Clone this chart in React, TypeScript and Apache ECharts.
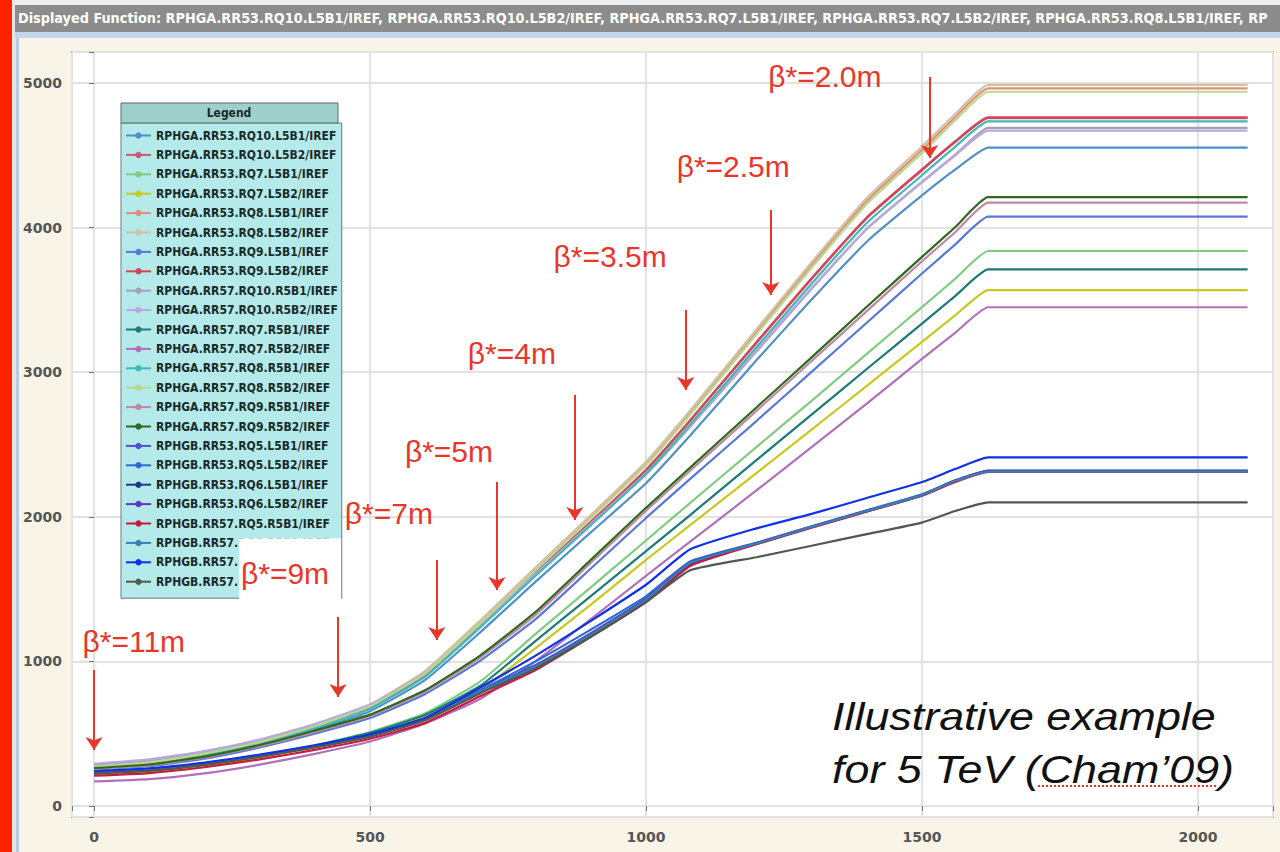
import React, { useEffect, useRef } from "react";
import * as echarts from "echarts";

const X_POINTS = [0, 100, 200, 300, 400, 500, 600, 700, 800, 900, 1000, 1080, 1200, 1300, 1400, 1500, 1560, 1620, 2090];

const SERIES_NAMES = [
  "RPHGA.RR53.RQ10.L5B1/IREF",
  "RPHGA.RR53.RQ10.L5B2/IREF",
  "RPHGA.RR53.RQ7.L5B1/IREF",
  "RPHGA.RR53.RQ7.L5B2/IREF",
  "RPHGA.RR53.RQ8.L5B1/IREF",
  "RPHGA.RR53.RQ8.L5B2/IREF",
  "RPHGA.RR53.RQ9.L5B1/IREF",
  "RPHGA.RR53.RQ9.L5B2/IREF",
  "RPHGA.RR57.RQ10.R5B1/IREF",
  "RPHGA.RR57.RQ10.R5B2/IREF",
  "RPHGA.RR57.RQ7.R5B1/IREF",
  "RPHGA.RR57.RQ7.R5B2/IREF",
  "RPHGA.RR57.RQ8.R5B1/IREF",
  "RPHGA.RR57.RQ8.R5B2/IREF",
  "RPHGA.RR57.RQ9.R5B1/IREF",
  "RPHGA.RR57.RQ9.R5B2/IREF",
  "RPHGB.RR53.RQ5.L5B1/IREF",
  "RPHGB.RR53.RQ5.L5B2/IREF",
  "RPHGB.RR53.RQ6.L5B1/IREF",
  "RPHGB.RR53.RQ6.L5B2/IREF",
  "RPHGB.RR57.RQ5.R5B1/IREF",
  "RPHGB.RR57.RQ5.R5B2/IREF",
  "RPHGB.RR57.RQ6.R5B1/IREF",
  "RPHGB.RR57.RQ6.R5B2/IREF",
];

const SERIES_COLORS = [
  "#4f90c8", "#c85a78", "#80cc80", "#c8c81e", "#e0907a", "#d2c2a2", "#5878d8", "#d04858",
  "#a8a0b8", "#b8a8e0", "#1e7a78", "#b070b8", "#40b8b8", "#b8d890", "#c088a8", "#2e6a1a",
  "#5050c8", "#3068d8", "#203888", "#5838c0", "#c81840", "#3880b0", "#1030e8", "#505850",
];

const a53q10b1 = [256, 286, 343, 421, 526, 656, 872, 1202, 1552, 1892, 2232, 2562, 3082, 3502, 3902, 4222, 4400, 4553, 4553];
const a53q10b2 = [266, 296, 356, 436, 545, 682, 906, 1250, 1610, 1962, 2322, 2664, 3202, 3644, 4064, 4396, 4590, 4757, 4757];
const a53q7b1 = [232, 252, 292, 352, 422, 512, 642, 862, 1190, 1512, 1836, 2096, 2482, 2802, 3126, 3450, 3645, 3838, 3838];
const a53q7b2 = [216, 236, 276, 336, 406, 496, 616, 802, 1092, 1392, 1702, 1942, 2302, 2602, 2906, 3210, 3392, 3568, 3568];
const a53q8b1 = [278, 308, 368, 448, 558, 697, 928, 1276, 1642, 2003, 2370, 2722, 3280, 3742, 4184, 4537, 4762, 4962, 4962];
const a53q8b2 = [282, 312, 372, 452, 562, 702, 935, 1285, 1650, 2012, 2380, 2735, 3295, 3760, 4205, 4560, 4785, 4986, 4986];
const a53q9b1 = [250, 275, 328, 405, 500, 608, 775, 1005, 1292, 1642, 1992, 2262, 2662, 3002, 3342, 3682, 3882, 4076, 4076];
const a53q9b2 = [268, 298, 358, 438, 548, 684, 908, 1253, 1613, 1965, 2325, 2668, 3207, 3649, 4070, 4402, 4596, 4762, 4762];
const a57q10b1 = [286, 316, 374, 454, 561, 696, 916, 1252, 1601, 1946, 2292, 2622, 3142, 3576, 3990, 4316, 4503, 4690, 4690];
const a57q10b2 = [292, 322, 380, 460, 567, 702, 922, 1258, 1606, 1952, 2302, 2632, 3152, 3582, 3992, 4312, 4498, 4670, 4670];
const a57q7b1 = [226, 246, 286, 346, 416, 506, 631, 832, 1142, 1452, 1762, 2012, 2392, 2706, 3022, 3336, 3526, 3711, 3711];
const a57q7b2 = [170, 186, 226, 286, 361, 446, 571, 742, 1002, 1292, 1592, 1828, 2182, 2482, 2782, 3092, 3272, 3449, 3449];
const a57q8b1 = [262, 292, 350, 430, 538, 672, 895, 1236, 1592, 1942, 2298, 2638, 3172, 3612, 4032, 4362, 4558, 4734, 4734];
const a57q8b2 = [272, 302, 362, 442, 552, 690, 918, 1264, 1630, 1990, 2356, 2706, 3262, 3722, 4163, 4516, 4740, 4939, 4939];
const a57q9b1 = [256, 281, 336, 414, 512, 622, 792, 1027, 1322, 1682, 2042, 2318, 2732, 3077, 3422, 3767, 3967, 4172, 4172];
const a57q9b2 = [262, 287, 342, 422, 522, 632, 802, 1042, 1342, 1702, 2062, 2340, 2756, 3102, 3452, 3797, 4002, 4210, 4210];
const b53q5b1 = [236, 256, 296, 351, 416, 491, 603, 795, 975, 1195, 1435, 1685, 1818, 1932, 2042, 2152, 2252, 2316, 2316];
const b53q5b2 = [235, 255, 295, 350, 415, 490, 600, 800, 1000, 1220, 1450, 1690, 1820, 1935, 2045, 2155, 2250, 2320, 2320];
const b53q6b1 = [228, 248, 288, 343, 408, 483, 595, 785, 960, 1180, 1420, 1672, 1812, 1928, 2038, 2148, 2245, 2312, 2312];
const b53q6b2 = [233, 253, 293, 348, 413, 488, 601, 792, 970, 1190, 1430, 1682, 1816, 1931, 2041, 2151, 2250, 2318, 2318];
const b57q5b1 = [210, 228, 268, 322, 388, 465, 575, 760, 940, 1170, 1410, 1660, 1810, 1925, 2035, 2145, 2240, 2310, 2310];
const b57q5b2 = [232, 252, 292, 347, 412, 487, 600, 790, 965, 1185, 1425, 1680, 1815, 1930, 2040, 2150, 2248, 2312, 2312];
const b57q6b1 = [240, 260, 300, 355, 420, 495, 610, 820, 1040, 1280, 1530, 1775, 1920, 2020, 2130, 2240, 2330, 2411, 2411];
const b57q6b2 = [225, 245, 285, 340, 405, 480, 595, 780, 950, 1170, 1410, 1630, 1720, 1800, 1880, 1960, 2040, 2100, 2100];

const SERIES_VALUES = [
  a53q10b1, a53q10b2, a53q7b1, a53q7b2, a53q8b1, a53q8b2, a53q9b1, a53q9b2,
  a57q10b1, a57q10b2, a57q7b1, a57q7b2, a57q8b1, a57q8b2, a57q9b1, a57q9b2,
  b53q5b1, b53q5b2, b53q6b1, b53q6b2, b57q5b1, b57q5b2, b57q6b1, b57q6b2,
];

const BETA_LABELS = ["β*=11m", "β*=9m", "β*=7m", "β*=5m", "β*=4m", "β*=3.5m", "β*=2.5m", "β*=2.0m"];
const LABEL_X = [72, 355, 534, 643, 757, 935, 1158, 1324];
const LABEL_Y = [1141, 1610, 2026, 2448, 3126, 3797, 4419, 5048];
const ARROW_X = [0, 442, 621, 730, 871, 1072, 1226, 1514];
const ARROW_TOP = [940, 1307, 1701, 2241, 2842, 3430, 4122, 5041];
const ARROW_BOTTOM = [387, 754, 1148, 1494, 1978, 2877, 3534, 4481];

const NOTE_TEXT = "Illustrative example\nfor 5 TeV (Cham\u201909)";
const RED = "#e8362a";
const NARROW = "'Liberation Sans Narrow', 'DejaVu Sans Condensed', 'Liberation Sans', sans-serif";

export default function App() {
  const ref = useRef<HTMLDivElement>(null);
  useEffect(() => {
    if (!ref.current) return;
    const chart = echarts.init(ref.current, null, { renderer: "svg" });
    const lineSeries: any[] = SERIES_NAMES.map((name, i) => ({
      name,
      type: "line",
      data: X_POINTS.map((x, j) => [x, SERIES_VALUES[i][j]]),
      showSymbol: false,
      symbol: "circle",
      symbolSize: 5,
      smooth: 0.15,
      color: SERIES_COLORS[i],
      lineStyle: { width: 2.2, color: SERIES_COLORS[i] },
      z: 3,
    }));
    const arrowSeries = {
      type: "line",
      data: [],
      silent: true,
      markLine: {
        silent: true,
        symbol: ["none", "arrow"],
        symbolSize: 13,
        label: { show: false },
        lineStyle: { color: RED, width: 2, type: "solid" },
        itemStyle: { color: RED },
        data: ARROW_X.map((x, i) => [
          { coord: [x, ARROW_TOP[i]] },
          { coord: [x, ARROW_BOTTOM[i]] },
        ]),
      },
      z: 8,
    };
    const labelSeries = {
      type: "scatter",
      symbolSize: 0,
      silent: true,
      z: 10,
      itemStyle: { opacity: 1 },
      data: BETA_LABELS.map((t, i) => ({
        name: t,
        value: [LABEL_X[i], LABEL_Y[i]],
        label:
          i === 1
            ? { backgroundColor: "#ffffff", padding: [28, 12, 12, 2] }
            : undefined,
      })),
      label: {
        show: true,
        position: "inside",
        formatter: "{b}",
        color: RED,
        fontSize: 30,
        fontFamily: "'Liberation Sans', Arial, sans-serif",
      },
    };
    const option: any = {
      animation: false,
      backgroundColor: "#f8f4e8",
      grid: {
        left: 72,
        right: 7,
        top: 52,
        bottom: 35,
        show: true,
        backgroundColor: "#ffffff",
        borderColor: "#9c9c9c",
        borderWidth: 2,
      },
      xAxis: {
        type: "value",
        min: -40,
        max: 2136,
        splitNumber: 5,
        axisLine: { show: false },
        axisTick: { show: true, length: 5, lineStyle: { color: "#777" } },
        axisLabel: {
          margin: 13,
          color: "#555",
          fontFamily: "'DejaVu Sans', sans-serif",
          fontWeight: "bold",
          fontSize: 14,
          formatter: (v: number) => (v % 500 === 0 ? String(v) : ""),
        },
        splitLine: { show: true, lineStyle: { color: "#e2e2e2", width: 2 } },
      },
      yAxis: {
        type: "value",
        min: -76,
        max: 5214,
        splitNumber: 5,
        axisLine: { show: false },
        axisTick: { show: true, length: 5, lineStyle: { color: "#777" } },
        axisLabel: {
          margin: 10,
          color: "#555",
          fontFamily: "'DejaVu Sans', sans-serif",
          fontWeight: "bold",
          fontSize: 14,
          formatter: (v: number) => (v % 1000 === 0 ? String(v) : ""),
        },
        splitLine: { show: true, lineStyle: { color: "#e2e2e2", width: 2 } },
      },
      legend: {
        data: SERIES_NAMES,
        orient: "vertical",
        left: 121,
        top: 123,
        padding: [6, 4, 10, 4],
        itemGap: 6.4,
        itemWidth: 25,
        itemHeight: 8,
        backgroundColor: "#b4eaea",
        borderColor: "#6a7a7a",
        borderWidth: 1,
        textStyle: {
          fontFamily: NARROW,
          fontWeight: "bold",
          fontSize: 12,
          lineHeight: 13,
          color: "#1a2a2a",
        },
        z: 4,
      },
      graphic: [
        { type: "rect", shape: { x: 0, y: 0, width: 12, height: 852 }, style: { fill: "#ff2200" }, z: 20 },
        { type: "rect", shape: { x: 12, y: 0, width: 4, height: 852 }, style: { fill: "#e6e6e6" }, z: 20 },
        { type: "rect", shape: { x: 16, y: 36, width: 3, height: 816 }, style: { fill: "#b8cce4" }, z: 20 },
        { type: "rect", shape: { x: 15, y: 0, width: 1265, height: 5 }, style: { fill: "#eeeeee" }, z: 20 },
        { type: "rect", shape: { x: 15, y: 5, width: 1265, height: 27 }, style: { fill: "#8c8c8c" }, z: 20 },
        { type: "rect", shape: { x: 15, y: 32, width: 1265, height: 6 }, style: { fill: "#c4d4ea" }, z: 20 },
        {
          type: "text",
          x: 18,
          y: 18,
          z: 21,
          style: {
            text:
              "Displayed Function: " + SERIES_NAMES.slice(0, 8).join(", "),
            fill: "#ffffff",
            font: "bold 14.3px " + NARROW,
            textVerticalAlign: "middle",
            width: 1260,
            overflow: "truncate",
            ellipsis: "",
          },
        },
        { type: "rect", shape: { x: 121, y: 103, width: 217, height: 20 }, style: { fill: "#9ecfca", stroke: "#5a6a6a", lineWidth: 1 }, z: 6 },
        {
          type: "text",
          x: 229,
          y: 113,
          z: 7,
          style: {
            text: "Legend",
            fill: "#1a2a2a",
            font: "bold 12px " + NARROW,
            textAlign: "center",
            textVerticalAlign: "middle",
          },
        },
        {
          type: "text",
          x: 832,
          y: 690,
          scaleX: 1.15,
          z: 9,
          style: {
            text: NOTE_TEXT,
            fill: "#111111",
            font: "italic 39px 'Liberation Sans', Arial, sans-serif",
            lineHeight: 53,
          },
        },
        {
          type: "line",
          shape: { x1: 1038, y1: 786, x2: 1218, y2: 786 },
          style: { stroke: "#e03030", lineWidth: 2, lineDash: [2, 2] },
          z: 9,
        },
      ],
      series: [...lineSeries, arrowSeries, labelSeries],
    };
    chart.setOption(option);
    return () => chart.dispose();
  }, []);
  return (
    <div
      ref={ref}
      style={{ position: "fixed", left: 0, top: 0, width: 1280, height: 852 }}
    />
  );
}
